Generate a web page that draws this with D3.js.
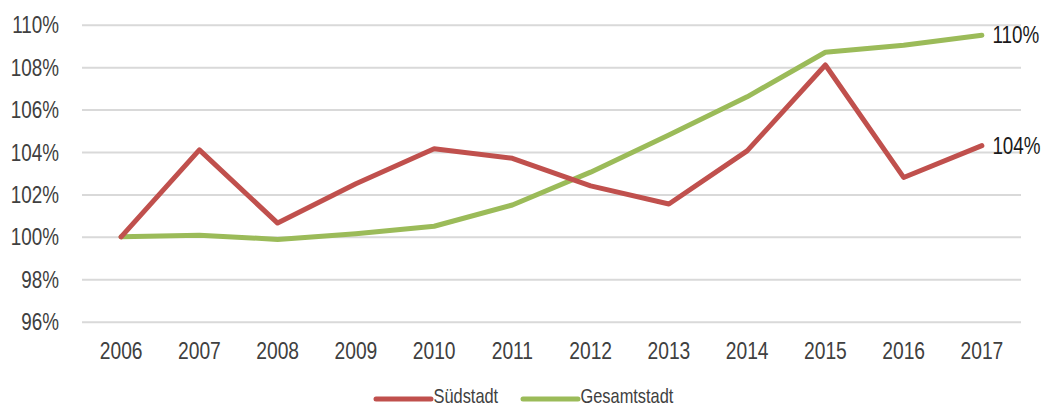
<!DOCTYPE html>
<html>
<head>
<meta charset="utf-8">
<script src="https://cdn.jsdelivr.net/npm/d3@7/dist/d3.min.js"></script>
<style>
  html, body { margin: 0; padding: 0; background: #fff; }
  svg { display: block; }
  text { font-family: "Liberation Sans", Arial, sans-serif; }
</style>
</head>
<body>
<svg id="chart" width="1044" height="408"></svg>
<script>
// Jahre (Kategorien)
const years = ["2006", "2007", "2008", "2009", "2010", "2011", "2012", "2013", "2014", "2015", "2016", "2017"];
// Indexwerte in Prozent (2006 = 100 %)
const suedstadt = [100, 104.1, 100.65, 102.5, 104.15, 103.7, 102.4, 101.55, 104.05, 108.1, 102.8, 104.3];
const gesamtstadt = [100, 100.08, 99.88, 100.15, 100.5, 101.5, 103.05, 104.8, 106.6, 108.7, 109.03, 109.5];
const yTicks = [96, 98, 100, 102, 104, 106, 108, 110];
const seriesNames = ["Südstadt", "Gesamtstadt"];
const seriesColors = ["#c0504d", "#9bbb59"];

// schmale Schrift: horizontale Stauchung
const SQ = 0.82;

const svg = d3.select("#chart");
const plot = { left: 82, right: 1021, top: 24.7, bottom: 321.7 };

const x = d3.scaleBand().domain(years).range([plot.left, plot.right]);
const y = d3.scaleLinear().domain([96, 110]).range([plot.bottom, plot.top]);
const cx = d => x(d) + x.bandwidth() / 2;

// Gitternetz + Y-Achse
const yAxis = svg.append("g")
  .attr("transform", `translate(${plot.left},0)`)
  .call(d3.axisLeft(y).tickValues(yTicks)
    .tickSize(-(plot.right - plot.left))
    .tickFormat(d => d + "%"));
yAxis.select(".domain").remove();
yAxis.selectAll(".tick line").attr("stroke", "#d9d9d9").attr("stroke-width", 2);
yAxis.selectAll(".tick text")
  .attr("x", 0)
  .attr("transform", `translate(-23,0) scale(${SQ},1)`)
  .attr("fill", "#404040")
  .style("font-size", "23px")
  .attr("dy", "0.35em");

// X-Achse
const xAxis = svg.append("g")
  .attr("transform", `translate(0,${plot.bottom})`)
  .call(d3.axisBottom(x).tickSize(0));
xAxis.select(".domain").remove();
xAxis.selectAll(".tick text")
  .attr("y", 0)
  .attr("transform", `translate(0,21) scale(${SQ},1)`)
  .attr("fill", "#404040")
  .style("font-size", "23.5px");

// Linien
const series = [suedstadt, gesamtstadt];
const line = d3.line().x((d, i) => cx(years[i])).y(d => y(d));

[1, 0].forEach(k => {
  svg.append("path")
    .datum(series[k])
    .attr("d", line)
    .attr("fill", "none")
    .attr("stroke", seriesColors[k])
    .attr("stroke-width", 5)
    .attr("stroke-linejoin", "round")
    .attr("stroke-linecap", "round");
});

// Endwert-Beschriftung
series.forEach((s, k) => {
  const last = s[s.length - 1];
  svg.append("text")
    .attr("transform", `translate(${cx(years[years.length - 1]) + 10.5},${y(last)}) scale(${SQ},1)`)
    .attr("dy", "0.35em")
    .attr("fill", "#1a1a1a")
    .style("font-size", "23px")
    .text(Math.round(last) + "%");
});

// Legende
const legendX = [376, 523];
const legendY = 399;
seriesNames.forEach((name, k) => {
  const g = svg.append("g").attr("transform", `translate(${legendX[k]},${legendY})`);
  g.append("line")
    .attr("x1", 0).attr("x2", 55)
    .attr("y1", 0).attr("y2", 0)
    .attr("stroke", seriesColors[k])
    .attr("stroke-width", 5)
    .attr("stroke-linecap", "round");
  g.append("text")
    .attr("transform", `translate(57.5,4.3) scale(${SQ},1)`)
    .attr("fill", "#404040")
    .style("font-size", "20px")
    .text(name);
});
</script>
</body>
</html>
